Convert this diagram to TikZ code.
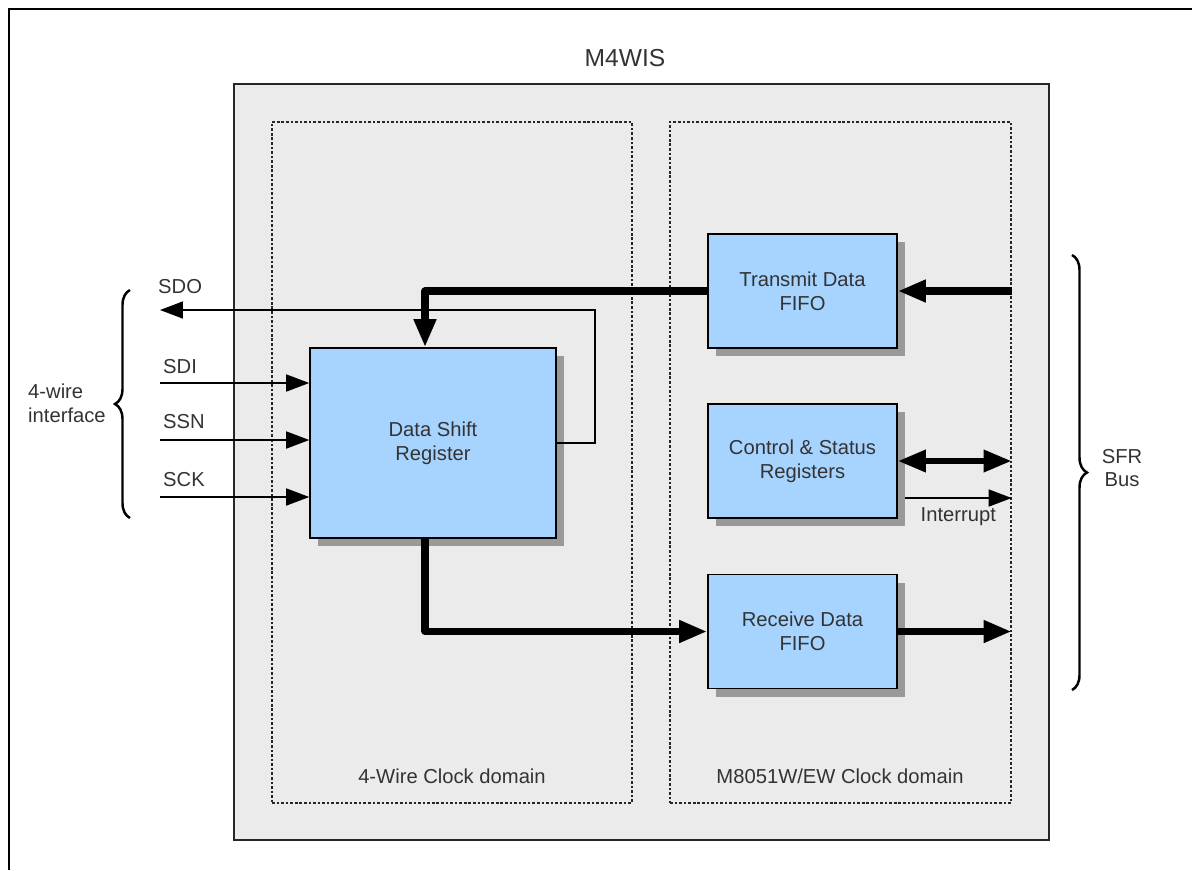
\documentclass[tikz,border=0pt]{standalone}
\usepackage{fontspec}
\setmainfont{Liberation Sans}
\usetikzlibrary{arrows.meta,shadows,decorations.pathreplacing,positioning}

\definecolor{boxblue}{HTML}{A6D4FF}
\definecolor{panelgray}{HTML}{EBEBEB}
\definecolor{shadegray}{HTML}{999999}
\definecolor{inkgray}{HTML}{333333}

\tikzset{
  blk/.style={draw=black, line width=0.9pt, fill=boxblue, align=center, text=inkgray,
    minimum width=3.78cm, minimum height=2.28cm,
    drop shadow={shadow xshift=0.16cm, shadow yshift=-0.16cm, fill=shadegray, opacity=1}},
  clkdom/.style={draw=black!85, line width=0.8pt, dash pattern=on 1.5pt off 1.1pt,
    minimum height=13.62cm},
  bus/.style={line width=4pt, line join=round, -{Triangle[length=0.56cm,width=0.42cm]}},
  dbus/.style={line width=3.6pt, {Triangle[length=0.56cm,width=0.42cm]}-{Triangle[length=0.56cm,width=0.42cm]}},
  wire/.style={line width=0.9pt, -{Triangle[length=0.46cm,width=0.34cm]}},
  lbl/.style={text=inkgray},
  curly/.style={decorate, decoration={brace, amplitude=0.3cm}, line width=1.4pt}
}

\begin{document}
\begin{tikzpicture}[x=0.02cm, y=-0.02cm, font=\fontsize{11.5}{13.5}\selectfont] % pixel units
    \useasboundingbox (0,0) rectangle (1192,870);

    % outer frame
    \draw[line width=1.4pt] (9,870) -- (9,9) -- (1192,9);

    % M4WIS block and the two clock domains
    \node[lbl, font=\fontsize{14}{16}\selectfont] (title) at (625,58) {M4WIS};
    \node[draw=black!85, line width=1.1pt, fill=panelgray,
          minimum width=16.3cm, minimum height=15.12cm] (m4wis) at (641.5,462) {};
    \node[clkdom, minimum width=7.2cm] (wdom) at (452,462.5) {};
    \node[clkdom, minimum width=6.82cm] (mdom) at (840.5,462.5) {};
    \node[lbl] (wdomlbl) at (452,776) {4-Wire Clock domain};
    \node[lbl] (mdomlbl) at (840,776) {M8051W/EW Clock domain};

    % blocks
    \node[blk, minimum width=4.92cm, minimum height=3.8cm] (dsr) at (433,443) {Data Shift\\Register};
    \node[blk] (txfifo) at (802.5,291) {Transmit Data\\FIFO};
    \node[blk] (ctl) at (802.5,461) {Control \& Status\\Registers};
    \node[blk] (rxfifo) at (802.5,631.5) {Receive Data\\FIFO};

    % data paths
    \draw[bus] (txfifo.east -| mdom.east) -- (txfifo.east);
    \draw[bus] (txfifo.west) -| ([xshift=-0.16cm]dsr.north);
    \draw[bus] ([xshift=-0.16cm]dsr.south) |- (rxfifo.west);
    \draw[bus] (rxfifo.east) -- (rxfifo.east -| mdom.east);
    \draw[dbus] (ctl.east) -- (ctl.east -| mdom.east);

    % interrupt
    \coordinate (irq) at (905,498);
    \draw[wire] (irq) -- (irq -| mdom.east) node[lbl, midway, anchor=north, inner sep=1pt, yshift=-4pt] {Interrupt};

    % 4-wire pins
    \coordinate (sdoturn) at (595,310);
    \coordinate (sdoend) at (160,310);
    \coordinate (sdiin) at (160,383);
    \coordinate (ssnin) at (160,440);
    \coordinate (sckin) at (160,497);
    \draw[wire] (dsr.east) -| (sdoturn) -- (sdoend);
    \draw[wire] (sdiin) -- (sdiin -| dsr.west);
    \draw[wire] (ssnin) -- (ssnin -| dsr.west);
    \draw[wire] (sckin) -- (sckin -| dsr.west);
    \node[lbl, anchor=west] (sdo) at (152,287) {SDO};
    \node[lbl, anchor=west] (sdi) at (157,367) {SDI};
    \node[lbl, anchor=west] (ssn) at (157,422) {SSN};
    \node[lbl, anchor=west] (sck) at (157,480) {SCK};

    % braces
    \draw[curly] (130,518) -- (130,290);
    \node[lbl, anchor=west, align=left] (ifc) at (22,403) {4-wire\\interface};
    \draw[curly] (1072,255) -- (1072,690);
    \node[lbl, align=center] (sfr) at (1122,468) {SFR\\Bus};
\end{tikzpicture}
\end{document}
